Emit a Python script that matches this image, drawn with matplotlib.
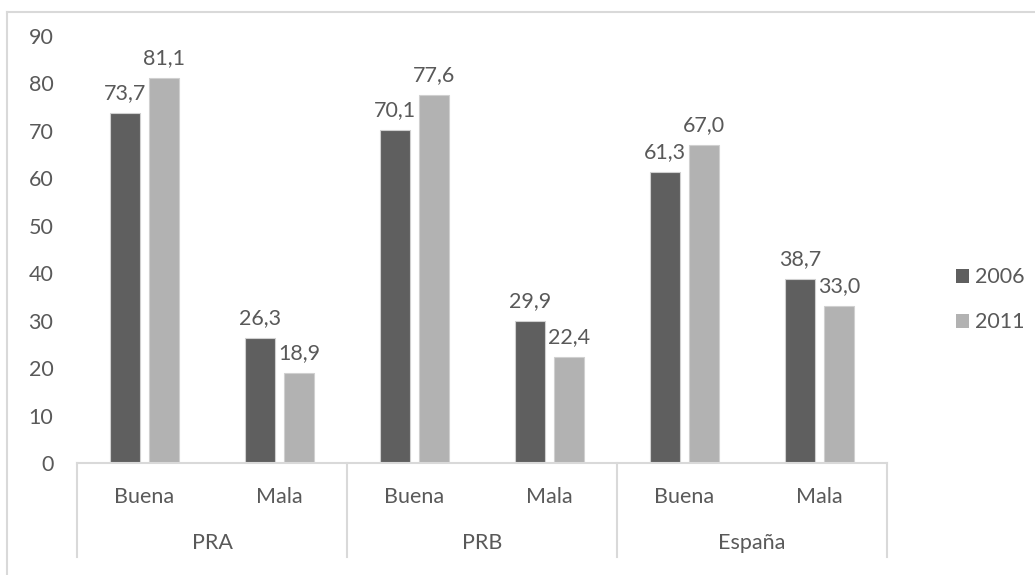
import matplotlib
matplotlib.use("Agg")
import matplotlib.pyplot as plt
from matplotlib.lines import Line2D
from matplotlib.patches import Rectangle
import numpy as np

plt.rcParams['font.family'] = ['Lato', 'DejaVu Sans']

groups = ["PRA", "PRB", "España"]
categories = ["Buena", "Mala", "Buena", "Mala", "Buena", "Mala"]
series_names = ["2006", "2011"]
values_2006 = [73.7, 26.3, 70.1, 29.9, 61.3, 38.7]
values_2011 = [81.1, 18.9, 77.6, 22.4, 67.0, 33.0]
y_ticks = [0, 10, 20, 30, 40, 50, 60, 70, 80, 90]

dark = "#5f5f5f"
light = "#b2b2b2"
edge = "#d0d0d0"
text_color = "#595959"
line_color = "#d9d9d9"
fs = 15.5

W, H = 1035, 575
fig = plt.figure(figsize=(W / 100, H / 100), dpi=100)
ax_bottom, ax_top = 463, 36
ax_h = ax_bottom - ax_top
ax = fig.add_axes([77 / W, 1 - ax_bottom / H, (887 - 77) / W, ax_h / H])

x = np.arange(len(categories)) + 0.5
bw = 0.222
off = 0.144
b1 = ax.bar(x - off, values_2006, bw, color=dark, edgecolor=edge, linewidth=0.8)
b2 = ax.bar(x + off, values_2011, bw, color=light, edgecolor=edge, linewidth=0.8)

def fmt(v):
    return f"{v:.1f}".replace(".", ",")

for bars, vals in ((b1, values_2006), (b2, values_2011)):
    for rect, v in zip(bars, vals):
        ax.annotate(fmt(v), (rect.get_x() + rect.get_width() / 2, v),
                    xytext=(0, 10), textcoords="offset points",
                    ha="center", va="baseline", fontsize=fs, color=text_color)

ax.set_xlim(0, len(categories))
ax.set_ylim(0, 90)
ax.set_yticks(y_ticks)
ax.set_yticklabels([str(t) for t in y_ticks])
ax.tick_params(axis="y", length=0, pad=17, labelsize=fs, labelcolor=text_color)
ax.set_xticks([])

for s in ("top", "right", "left"):
    ax.spines[s].set_visible(False)
ax.spines["bottom"].set_color(line_color)
ax.spines["bottom"].set_linewidth(1.5)

# Two-level category axis: category names, group separators, group names
trans = ax.get_xaxis_transform()
def below(px):
    return -(px - ax_bottom) / ax_h

for xi, c in zip(x, categories):
    ax.text(xi, below(503), c, transform=trans, ha="center", va="baseline",
            fontsize=fs, color=text_color)
for gx in range(0, len(categories) + 1, 2):
    ax.add_line(Line2D([gx, gx], [0, below(557)], transform=trans,
                       color=line_color, linewidth=1.5, clip_on=False))
for i, g in enumerate(groups):
    ax.text(2 * i + 1, below(549), g, transform=trans,
            ha="center", va="baseline", fontsize=fs, color=text_color)

# Legend
for name, col, cy in zip(series_names, (dark, light), (275.5, 320.5)):
    fig.add_artist(Rectangle((956 / W, 1 - (cy + 7) / H), 13 / W, 14 / H,
                             transform=fig.transFigure, facecolor=col,
                             edgecolor="none"))
    fig.text(975 / W, 1 - cy / H, name, ha="left", va="center_baseline",
             fontsize=fs, color=text_color)

# Chart-area outline
fig.add_artist(Line2D([7 / W, 1.0], [1 - 12 / H, 1 - 12 / H],
                      transform=fig.transFigure, color=line_color, linewidth=1.5))
fig.add_artist(Line2D([7 / W, 7 / W], [0, 1 - 12 / H],
                      transform=fig.transFigure, color=line_color, linewidth=1.5))

fig.savefig("out.png", dpi=100, facecolor="white")
